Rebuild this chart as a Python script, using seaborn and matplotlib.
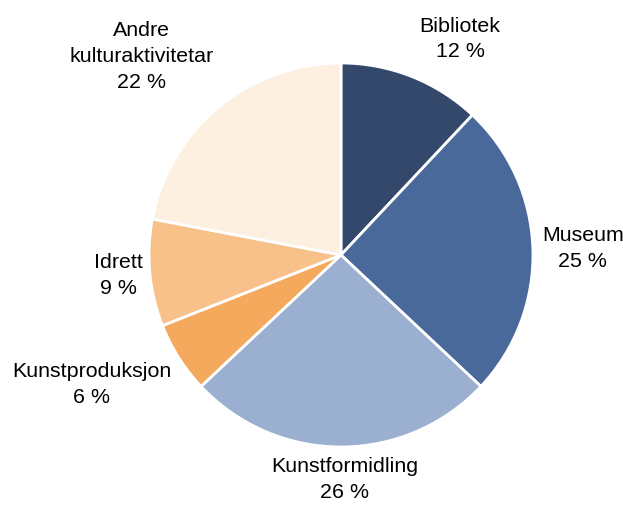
import matplotlib
matplotlib.use('Agg')
import matplotlib.pyplot as plt
import seaborn as sns

sns.set_theme(style='white')
plt.rcParams['font.family'] = ['Liberation Sans', 'DejaVu Sans']

# Data
categories = ['Bibliotek', 'Museum', 'Kunstformidling', 'Kunstproduksjon',
              'Idrett', 'Andre\nkulturaktivitetar']
shares = [12, 25, 26, 6, 9, 22]
colors = ['#34486b', '#4a699b', '#9bafd0', '#f5a95d', '#f9c18a', '#fdf0e1']

# Label positions (pie units, radius = 1)
label_pos = [(0.62, 1.13), (1.26, 0.04), (0.02, -1.165),
             (-1.30, -0.67), (-1.16, -0.10), (-1.04, 1.04)]

fig = plt.figure(figsize=(6.23, 5.06), dpi=100)
ax = fig.add_axes([0, 0, 1, 1])

wedges, _ = ax.pie(shares, colors=colors, startangle=90, counterclock=False,
                   radius=1.0, wedgeprops=dict(edgecolor='white', linewidth=2))

for name, val, (x, y) in zip(categories, shares, label_pos):
    ax.text(x, y, f'{name}\n{val} %', ha='center', va='center',
            fontsize=15.4, color='black', linespacing=1.45)

ax.set_xlim(-1.776, 1.469)
ax.set_ylim(-1.302, 1.333)
ax.set_aspect('equal')
ax.axis('off')

fig.savefig('out.png', dpi=100)
plt.close(fig)
